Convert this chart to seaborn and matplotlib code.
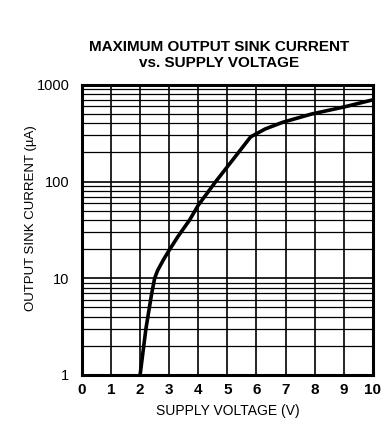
#!/usr/bin/env python3
import numpy as np
import pandas as pd
from matplotlib import pyplot as plt
from matplotlib import ticker
import seaborn as sns

# curve
supply_v = [2.0, 2.2, 2.4, 2.5, 2.6, 2.8, 3.0, 3.3, 3.7, 4.0, 4.6, 5.2, 5.8, 6.3, 6.9, 7.9, 9.0, 10.0]
sink_ua = [1.0, 3.0, 7.0, 10.0, 12.0, 15.5, 19.5, 27.0, 40.0, 57.0, 100.0, 170.0, 290.0, 350.0, 410.0, 500.0, 590.0, 700.0]

x_ticks = list(range(0, 11))
y_ticks = [1, 10, 100, 1000]
y_labels = ["1", "10", "100", "1000"]

sns.set_style("white", {"text.color": "black", "axes.labelcolor": "black",
                        "xtick.color": "black", "ytick.color": "black"})
plt.rcParams['font.family'] = ['Liberation Sans Narrow', 'Liberation Sans', 'DejaVu Sans']

df = pd.DataFrame({"V": supply_v, "I": sink_ua})

fig = plt.figure(figsize=(3.9, 4.33), dpi=100)
ax = fig.add_axes([0.210, 0.134, 0.746, 0.670])
sns.lineplot(data=df, x="V", y="I", color="black", linewidth=2.6, ax=ax, zorder=5)
ax.set_yscale("log")
ax.set_xlim(0, 10)
ax.set_ylim(1, 1000)
ax.set_xticks(x_ticks)
ax.set_xticklabels([str(t) for t in x_ticks], fontsize=11, fontweight="bold")
ax.set_yticks(y_ticks)
ax.set_yticklabels(y_labels, fontsize=10.5)
ax.yaxis.set_minor_locator(ticker.LogLocator(base=10, subs=np.arange(2, 10)))
ax.yaxis.set_minor_formatter(ticker.NullFormatter())
ax.grid(True, which="major", axis="both", color="black", linewidth=1.2)
ax.grid(True, which="minor", axis="y", color="black", linewidth=0.9)
ax.tick_params(axis="x", which="both", length=0, pad=6)
ax.tick_params(axis="y", which="both", length=0, pad=9)
for s in ax.spines.values():
    s.set_color("black")
    s.set_linewidth(2.2)
ax.set_xlabel("SUPPLY VOLTAGE (V)", fontsize=10, labelpad=5)
ax.set_ylabel("OUTPUT SINK CURRENT (\u00b5A)", fontsize=9.5, labelpad=8)
ax.yaxis.set_label_coords(-0.155, 0.54)
ax.set_title("MAXIMUM OUTPUT SINK CURRENT\nvs. SUPPLY VOLTAGE", fontsize=11,
             fontweight="heavy", linespacing=1.15, pad=13, x=0.47)

fig.savefig("out.png", dpi=100)
